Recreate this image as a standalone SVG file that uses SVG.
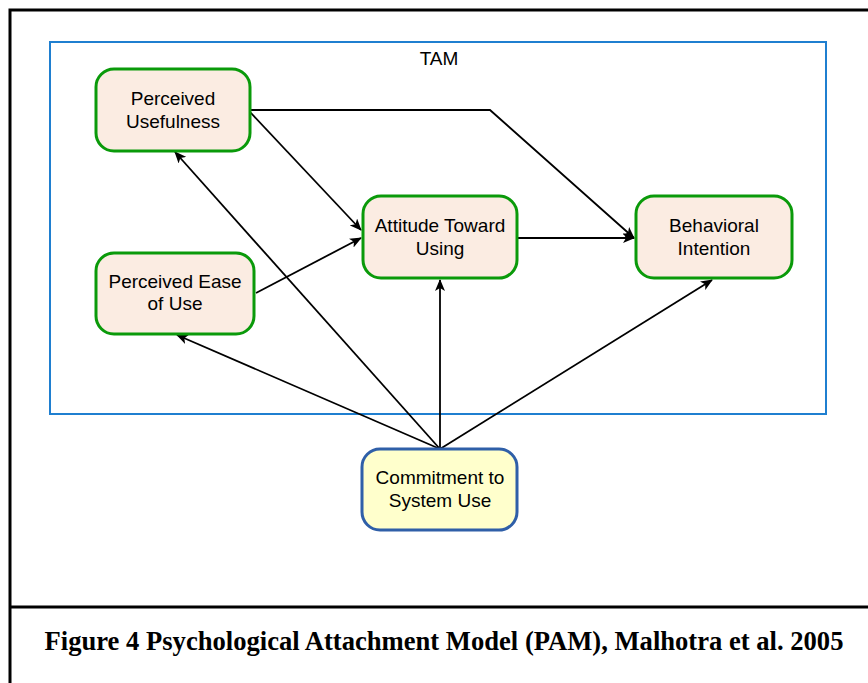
<svg xmlns="http://www.w3.org/2000/svg" width="868" height="683" viewBox="0 0 868 683">
  <style>
    .frame { fill: none; stroke: #000; stroke-width: 3; }
    .tam { fill: none; stroke: #1f7fd0; stroke-width: 2; }
    .node rect { fill: #fbece2; stroke: #0a9a0a; stroke-width: 3; }
    .node.commit rect { fill: #ffffcc; stroke: #2f5fa8; }
    .label { font-family: "Liberation Sans", Arial, sans-serif; font-size: 19px; fill: #000; text-anchor: middle; }
    .edge { fill: none; stroke: #000; stroke-width: 1.8; marker-end: url(#arrow); }
    .caption { font-family: "Liberation Serif", "Times New Roman", serif; font-weight: bold; font-size: 26.6px; fill: #000; text-anchor: middle; }
  </style>
  <defs>
    <marker id="arrow" viewBox="0 0 12 10" refX="11" refY="5" markerWidth="12" markerHeight="10" markerUnits="userSpaceOnUse" orient="auto">
      <path d="M0,0 L12,5 L0,10 L3,5 Z" fill="#000"/>
    </marker>
  </defs>

  <rect width="868" height="683" fill="#fff"/>

  <!-- outer frame -->
  <path class="frame" d="M10,683 V10 H870"/>
  <line class="frame" x1="9" y1="607" x2="870" y2="607"/>

  <!-- TAM boundary -->
  <rect class="tam" x="50" y="42" width="776" height="372"/>
  <text class="label" x="439" y="65">TAM</text>

  <g id="connectors">
    <path class="edge" d="M250,110 H490 L634,238"/>
    <path class="edge" d="M250,112 L361,230"/>
    <path class="edge" d="M256,293 L361,238"/>
    <path class="edge" d="M518,238 H634"/>
    <path class="edge" d="M440,449 L175,152"/>
    <path class="edge" d="M440,449 L177,335"/>
    <path class="edge" d="M440,449 V280"/>
    <path class="edge" d="M440,449 L712,280"/>
  </g>

  <g id="perceived-usefulness" class="node">
    <rect x="96" y="69" width="154" height="82" rx="18"/>
    <text class="label" x="173" y="105">Perceived</text>
    <text class="label" x="173" y="128">Usefulness</text>
  </g>

  <g id="perceived-ease-of-use" class="node">
    <rect x="96" y="253" width="158" height="81" rx="18"/>
    <text class="label" x="175" y="288">Perceived Ease</text>
    <text class="label" x="175" y="310">of Use</text>
  </g>

  <g id="attitude-toward-using" class="node">
    <rect x="363" y="196" width="154" height="82" rx="18"/>
    <text class="label" x="440" y="232">Attitude Toward</text>
    <text class="label" x="440" y="255">Using</text>
  </g>

  <g id="behavioral-intention" class="node">
    <rect x="636" y="196" width="156" height="82" rx="18"/>
    <text class="label" x="714" y="232">Behavioral</text>
    <text class="label" x="714" y="255">Intention</text>
  </g>

  <g id="commitment-to-system-use" class="node commit">
    <rect x="362" y="449" width="155" height="81" rx="18"/>
    <text class="label" x="440" y="484">Commitment to</text>
    <text class="label" x="440" y="507">System Use</text>
  </g>

  <text class="caption" x="444" y="650">Figure 4 Psychological Attachment Model (PAM), Malhotra et al. 2005</text>
</svg>
